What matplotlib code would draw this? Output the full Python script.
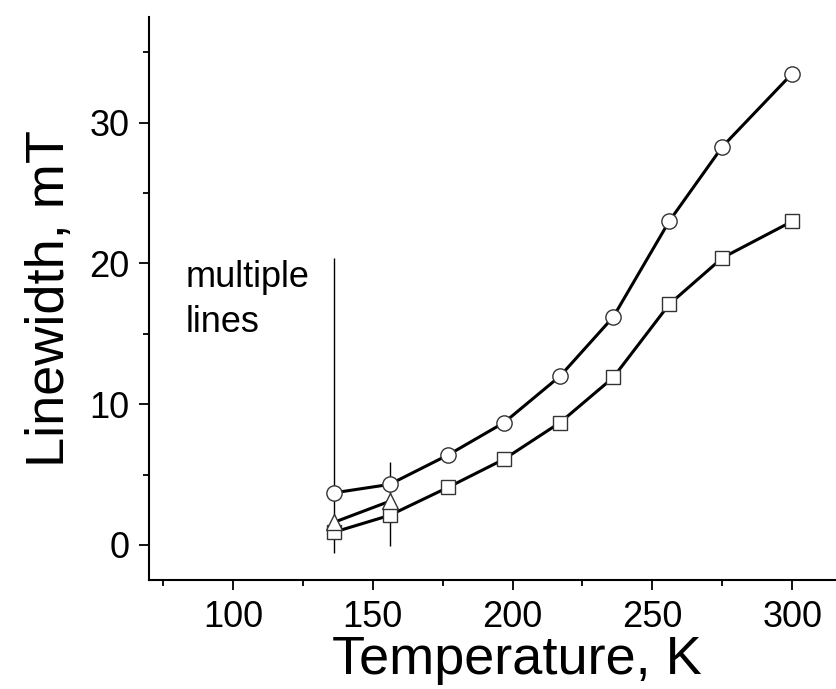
import matplotlib.pyplot as plt
from matplotlib.ticker import MultipleLocator

plt.rcParams['font.family'] = ['Liberation Sans', 'DejaVu Sans']

# Temperatura (K) y anchura de línea (mT)
temp = [136, 156, 177, 197, 217, 236, 256, 275, 300]
circles = [3.7, 4.3, 6.4, 8.7, 12.0, 16.2, 23.0, 28.3, 33.5]
squares = [0.9, 2.1, 4.1, 6.1, 8.7, 11.9, 17.1, 20.4, 23.0]
temp_tri = [136, 156]
triangles = [1.6, 3.1]

# líneas verticales (rango de líneas múltiples)
vl_x = [136, 156]
vl_lo = [-0.6, -0.1]
vl_hi = [20.4, 5.9]

fig = plt.figure(figsize=(8.37, 6.89), dpi=100)
ax = fig.add_axes([0.178, 0.158, 0.822, 0.817])

ax.vlines(vl_x, vl_lo, vl_hi, colors='black', linewidth=1.0, zorder=1)

mk = dict(color='black', linewidth=2.2, markerfacecolor='white',
          markeredgecolor='#333333', markeredgewidth=1.0, zorder=3)
ax.plot(temp, circles, marker='o', markersize=11, **mk)
ax.plot(temp, squares, marker='s', markersize=9.5, **mk)
ax.plot(temp_tri, triangles, marker='^', markersize=11, **mk)

ax.text(83, 18.3, 'multiple', fontsize=26, va='baseline')
ax.text(83, 15.1, 'lines', fontsize=26, va='baseline')

ax.set_xlim(70, 316)
ax.set_ylim(-2.5, 37.5)
ax.xaxis.set_major_locator(MultipleLocator(50))
ax.xaxis.set_minor_locator(MultipleLocator(25))
ax.yaxis.set_major_locator(MultipleLocator(10))
ax.yaxis.set_minor_locator(MultipleLocator(5))

ax.spines['top'].set_visible(False)
ax.spines['right'].set_visible(False)
for s in ('left', 'bottom'):
    ax.spines[s].set_linewidth(1.5)

ax.tick_params(which='major', direction='out', length=7, width=1.3,
               labelsize=26, pad=7)
ax.tick_params(which='minor', direction='out', length=4, width=1.3)

ax.set_xlabel('Temperature, K', fontsize=39, labelpad=0)
ax.xaxis.set_label_coords(0.535, -0.098, transform=ax.transAxes)
ax.xaxis.label.set_va('top')
ax.set_ylabel('Linewidth, mT', fontsize=39, labelpad=10)

fig.savefig('out.png', dpi=100)
